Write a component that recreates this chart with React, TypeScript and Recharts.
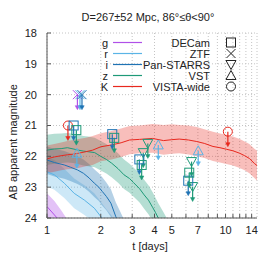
import React from 'react';
import { ComposedChart, Area, Line, Scatter, XAxis, YAxis, CartesianGrid } from 'recharts';

const FONT = '"Liberation Sans", Arial, Helvetica, sans-serif';

const COLORS: Record<string, string> = {
  g: '#b050e8',
  r: '#5ab4e6',
  i: '#1f73b4',
  z: '#1e9a78',
  K: '#e8281e',
};

// axis ticks
const xTicks = [1, 2, 3, 4, 5, 6, 7, 8, 9, 10, 11, 12, 13, 14];
const xLabels = [1, 2, 3, 4, 5, 7, 10, 14];
const yTicks = [18, 19, 20, 21, 22, 23, 24];

// K band (VISTA) light curve
const kT = [1, 1.1, 1.2, 1.3, 1.4, 1.5, 1.65, 1.8, 2.0, 2.3, 2.6, 2.9, 3.3, 3.9, 4.5, 5.0, 5.5, 6.2, 6.9, 7.6, 8.5, 9.3, 10.1, 11.0, 12.0, 12.8, 13.6, 14.5, 15];
const kMag = [22.08, 22.02, 21.98, 21.95, 21.93, 21.9, 21.85, 21.8, 21.69, 21.63, 21.56, 21.47, 21.45, 21.42, 21.49, 21.46, 21.44, 21.47, 21.52, 21.58, 21.68, 21.72, 21.77, 21.82, 21.9, 21.98, 22.07, 22.23, 22.3];
const kBright = [21.65, 21.6, 21.55, 21.5, 21.47, 21.44, 21.4, 21.34, 21.25, 21.18, 21.1, 21.02, 21.0, 20.95, 20.98, 20.96, 20.98, 21.0, 21.05, 21.12, 21.2, 21.26, 21.3, 21.36, 21.44, 21.52, 21.6, 21.75, 21.82];
const kFaint = [22.55, 22.5, 22.45, 22.42, 22.4, 22.38, 22.32, 22.28, 22.16, 22.1, 22.02, 21.93, 21.9, 21.88, 21.95, 21.92, 21.9, 21.94, 22.0, 22.05, 22.15, 22.2, 22.25, 22.3, 22.38, 22.45, 22.55, 22.7, 22.78];

// z band light curve
const zT = [1, 1.1, 1.2, 1.3, 1.4, 1.5, 1.6, 1.7, 1.85, 2.0, 2.15, 2.3, 2.5, 2.7, 2.9, 3.05, 3.3, 3.5, 3.7, 3.9, 4.05, 4.2, 4.5, 5.0];
const zMag = [21.8, 21.76, 21.75, 21.72, 21.76, 21.8, 21.83, 21.85, 21.88, 22.0, 22.1, 22.22, 22.4, 22.6, 22.72, 22.85, 23.05, 23.25, 23.42, 23.65, 23.82, 24.0, 24.3, 24.8];
const zBright = [21.3, 21.27, 21.26, 21.24, 21.27, 21.3, 21.34, 21.36, 21.4, 21.5, 21.6, 21.72, 21.9, 22.1, 22.24, 22.36, 22.56, 22.76, 22.94, 23.16, 23.34, 23.52, 23.82, 24.3];
const zFaint = [22.28, 22.24, 22.22, 22.2, 22.22, 22.26, 22.3, 22.32, 22.35, 22.46, 22.56, 22.68, 22.86, 23.06, 23.18, 23.3, 23.5, 23.7, 23.88, 24.1, 24.28, 24.45, 24.75, 25.2];

// i band light curve
const iT = [1, 1.1, 1.25, 1.35, 1.48, 1.6, 1.72, 1.84, 1.95, 2.04, 2.15, 2.28, 2.43, 2.55, 2.7, 3.0];
const iMag = [22.12, 22.2, 22.28, 22.35, 22.44, 22.55, 22.7, 22.87, 23.0, 23.14, 23.3, 23.52, 23.96, 24.2, 24.5, 25.0];
const iBright = [21.68, 21.75, 21.83, 21.9, 22.0, 22.1, 22.25, 22.42, 22.55, 22.68, 22.85, 23.07, 23.5, 23.75, 24.05, 24.55];
const iFaint = [22.57, 22.65, 22.73, 22.8, 22.9, 23.0, 23.15, 23.32, 23.45, 23.6, 23.75, 23.97, 24.4, 24.65, 24.95, 25.45];

// r band light curve
const rT = [1, 1.1, 1.25, 1.42, 1.62, 1.84, 2.0, 2.15, 2.3, 2.5];
const rMag = [22.5, 22.6, 22.87, 23.2, 23.42, 23.68, 23.95, 24.2, 24.4, 24.8];
const rBright = [22.02, 22.12, 22.4, 22.72, 22.94, 23.2, 23.47, 23.72, 23.92, 24.32];
const rFaint = [22.98, 23.08, 23.35, 23.68, 23.9, 24.16, 24.43, 24.68, 24.88, 25.28];

// g band light curve
const gT = [1, 1.1, 1.2, 1.3, 1.4];
const gMag = [23.63, 23.9, 24.15, 24.4, 24.7];
const gBright = [23.2, 23.45, 23.75, 24.05, 24.35];
const gFaint = [24.1, 24.4, 24.6, 24.8, 25.0];

// upper limits (observations)
const decamT = [1.41, 1.46, 2.32, 2.38, 3.29, 3.39, 6.18, 6.26];
const decamMag = [21.0, 21.15, 21.28, 21.4, 22.1, 22.28, 22.79, 22.53];
const decamBand = ['i', 'z', 'i', 'z', 'i', 'z', 'i', 'z'];

const ztfT = [1.48, 1.53, 1.57];
const ztfMag = [20.0, 20.0, 20.0];
const ztfBand = ['g', 'r', 'i'];

const psT = [3.46, 3.67, 6.45, 6.54];
const psMag = [21.88, 21.58, 22.17, 22.98];
const psBand = ['z', 'z', 'z', 'z'];

const vstT = [1.47, 4.2, 7.03];
const vstMag = [21.9, 21.63, 21.82];
const vstBand = ['r', 'r', 'r'];

const vistaT = [1.31, 10.3];
const vistaMag = [21.0, 21.2];
const vistaBand = ['K', 'K'];

const legendBands = ['g', 'r', 'i', 'z', 'K'];
const legendInstruments = ['DECam', 'ZTF', 'Pan-STARRS', 'VST', 'VISTA-wide'];
const legendShapes = ['square', 'x', 'down', 'up', 'circle'];

const curveRows = (t: number[], m: number[], lo: number[], hi: number[]) =>
  t.map((x, k) => ({ t: x, mag: m[k], band: [lo[k], hi[k]] }));
const obsRows = (t: number[], m: number[], b: string[]) =>
  t.map((x, k) => ({ t: x, mag: m[k], filt: b[k] }));

const kRows = curveRows(kT, kMag, kBright, kFaint);
const zRows = curveRows(zT, zMag, zBright, zFaint);
const iRows = curveRows(iT, iMag, iBright, iFaint);
const rRows = curveRows(rT, rMag, rBright, rFaint);
const gRows = curveRows(gT, gMag, gBright, gFaint);

const decamRows = obsRows(decamT, decamMag, decamBand);
const ztfRows = obsRows(ztfT, ztfMag, ztfBand);
const psRows = obsRows(psT, psMag, psBand);
const vstRows = obsRows(vstT, vstMag, vstBand);
const vistaRows = obsRows(vistaT, vistaMag, vistaBand);

function Sym({ kind, x, y, color }: { kind: string; x: number; y: number; color: string }) {
  const s = 4.5;
  const common = { fill: 'none', stroke: color, strokeWidth: 1 };
  switch (kind) {
    case 'square':
      return <rect x={x - s} y={y - s} width={2 * s} height={2 * s} {...common} />;
    case 'x':
      return <path d={`M${x - s},${y - s}L${x + s},${y + s}M${x - s},${y + s}L${x + s},${y - s}`} {...common} />;
    case 'down':
      return <path d={`M${x - 5},${y - 4}L${x + 5},${y - 4}L${x},${y + 5}Z`} {...common} />;
    case 'up':
      return <path d={`M${x - 5},${y + 4}L${x + 5},${y + 4}L${x},${y - 5}Z`} {...common} />;
    default:
      return <circle cx={x} cy={y} r={s} {...common} />;
  }
}

const makeShape = (kind: string) => (p: any) => {
  const { cx, cy, payload } = p;
  if (cx == null || cy == null) return <g />;
  const c = COLORS[payload.filt];
  const L = 15;
  return (
    <g>
      <line x1={cx} y1={cy} x2={cx} y2={cy + L - 3} stroke={c} strokeWidth={1.2} />
      <path d={`M${cx - 2.2},${cy + L - 4}L${cx + 2.2},${cy + L - 4}L${cx},${cy + L}Z`} fill={c} stroke={c} strokeWidth={0.5} />
      <Sym kind={kind} x={cx} y={cy} color={c} />
    </g>
  );
};

const tickStyle = { fontSize: 11, fill: '#222', fontFamily: FONT };
const AX = '#555';

export default function App() {
  return (
    <div style={{ position: 'absolute', left: 0, top: 0, width: 274, height: 253, background: '#fff' }}>
      <ComposedChart width={274} height={253} margin={{ top: 33, right: 17, bottom: 0, left: 0 }}>
        <CartesianGrid stroke="#c4c4c4" strokeDasharray="1 2" />
        <XAxis
          dataKey="t"
          type="number"
          scale="log"
          domain={[1, 15]}
          allowDataOverflow
          ticks={xTicks}
          interval={0}
          height={35}
          tick={tickStyle}
          tickFormatter={(v: number) => (xLabels.includes(v) ? String(v) : '')}
          tickSize={-4}
          tickMargin={12}
          stroke={AX}
        />
        <XAxis
          xAxisId="top"
          orientation="top"
          type="number"
          scale="log"
          domain={[1, 15]}
          allowDataOverflow
          ticks={xTicks}
          interval={0}
          height={0}
          tick={false}
          tickSize={-4}
          stroke={AX}
        />
        <YAxis
          type="number"
          reversed
          domain={[18, 24]}
          allowDataOverflow
          ticks={yTicks}
          interval={0}
          width={47}
          tick={tickStyle}
          tickSize={-4}
          tickMargin={14}
          stroke={AX}
        />
        <YAxis
          yAxisId="right"
          orientation="right"
          type="number"
          reversed
          domain={[18, 24]}
          allowDataOverflow
          ticks={yTicks}
          width={0}
          tick={false}
          tickSize={-4}
          stroke={AX}
        />

        <Area data={gRows} dataKey="band" stroke="none" fill={COLORS.g} fillOpacity={0.35} isAnimationActive={false} type="linear" />
        <Area data={rRows} dataKey="band" stroke="none" fill={COLORS.r} fillOpacity={0.3} isAnimationActive={false} type="linear" />
        <Area data={iRows} dataKey="band" stroke="none" fill={COLORS.i} fillOpacity={0.33} isAnimationActive={false} type="linear" />
        <Area data={zRows} dataKey="band" stroke="none" fill={COLORS.z} fillOpacity={0.33} isAnimationActive={false} type="linear" />
        <Area data={kRows} dataKey="band" stroke="none" fill={COLORS.K} fillOpacity={0.3} isAnimationActive={false} type="linear" />

        <Line data={gRows} dataKey="mag" stroke={COLORS.g} strokeWidth={1} dot={false} isAnimationActive={false} type="linear" />
        <Line data={rRows} dataKey="mag" stroke={COLORS.r} strokeWidth={1} dot={false} isAnimationActive={false} type="linear" />
        <Line data={iRows} dataKey="mag" stroke={COLORS.i} strokeWidth={1} dot={false} isAnimationActive={false} type="linear" />
        <Line data={zRows} dataKey="mag" stroke={COLORS.z} strokeWidth={1} dot={false} isAnimationActive={false} type="linear" />
        <Line data={kRows} dataKey="mag" stroke={COLORS.K} strokeWidth={1} dot={false} isAnimationActive={false} type="linear" />

        <Scatter data={vistaRows} dataKey="mag" shape={makeShape('circle')} isAnimationActive={false} />
        <Scatter data={vstRows} dataKey="mag" shape={makeShape('up')} isAnimationActive={false} />
        <Scatter data={psRows} dataKey="mag" shape={makeShape('down')} isAnimationActive={false} />
        <Scatter data={decamRows} dataKey="mag" shape={makeShape('square')} isAnimationActive={false} />
        <Scatter data={ztfRows} dataKey="mag" shape={makeShape('x')} isAnimationActive={false} />
      </ComposedChart>

      <svg width={274} height={253} style={{ position: 'absolute', left: 0, top: 0, pointerEvents: 'none' }} fontFamily={FONT}>
        <text x={148} y={21} fontSize={11} textAnchor="middle" fill="#222">
          D=267±52 Mpc, 86°≤θ&lt;90°
        </text>
        <text x={150} y={250} fontSize={11} textAnchor="middle" fill="#222">
          t [days]
        </text>
        <text x={17} y={142} fontSize={11} textAnchor="middle" fill="#222" transform="rotate(-90 17 142)">
          AB apparent magnitude
        </text>
        {legendBands.map((b, k) => {
          const y = 42.5 + 11 * k;
          return (
            <g key={b}>
              <text x={108} y={y + 4} fontSize={11} textAnchor="end" fill="#222">
                {b}
              </text>
              <line x1={113} y1={y} x2={142} y2={y} stroke={COLORS[b]} strokeWidth={1.2} />
            </g>
          );
        })}
        {legendInstruments.map((n, k) => {
          const y = 42.5 + 11 * k;
          return (
            <g key={n}>
              <text x={210} y={y + 4} fontSize={11} textAnchor="end" fill="#222">
                {n}
              </text>
              <Sym kind={legendShapes[k]} x={231} y={y} color="#222" />
            </g>
          );
        })}
      </svg>
    </div>
  );
}
